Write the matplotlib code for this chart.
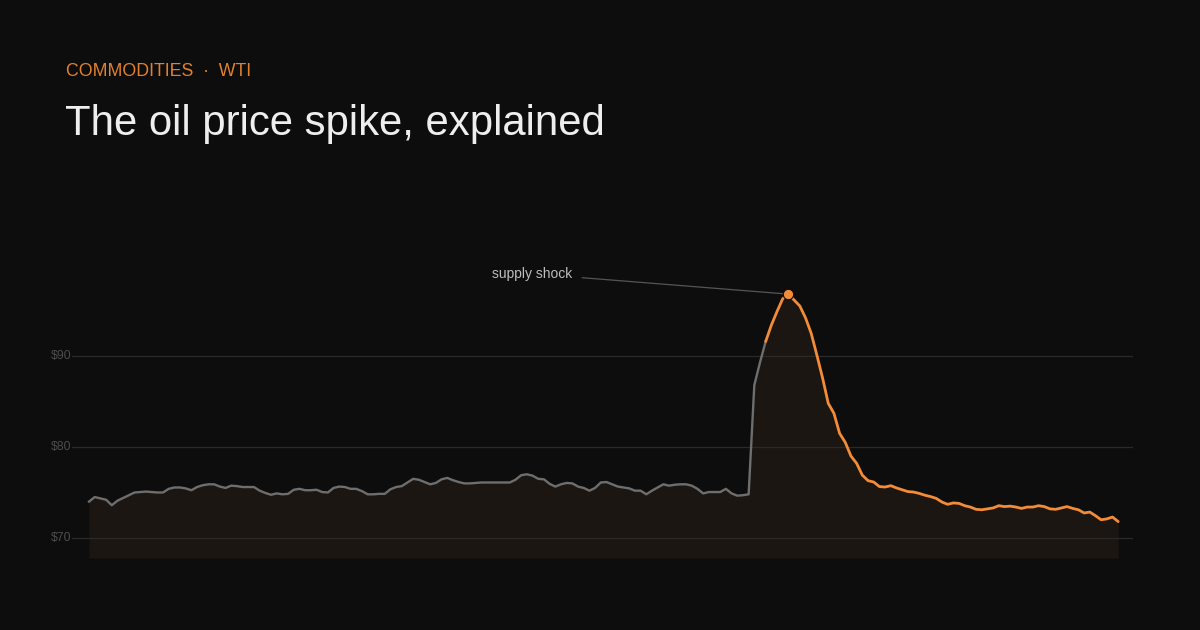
import numpy as np
import matplotlib
matplotlib.use("Agg")
import matplotlib.pyplot as plt
from matplotlib.transforms import blended_transform_factory

# WTI price, one value per session
prices = [
    74.0, 74.5, 74.35, 74.2, 73.6, 74.1, 74.4, 74.7, 75.0, 75.05,
    75.1, 75.05, 75.0, 75.0, 75.4, 75.55, 75.55, 75.45, 75.25, 75.6,
    75.8, 75.9, 75.9, 75.65, 75.5, 75.75, 75.7, 75.6, 75.6, 75.6,
    75.2, 74.95, 74.75, 74.9, 74.8, 74.85, 75.3, 75.4, 75.25, 75.25,
    75.3, 75.05, 75.0, 75.5, 75.65, 75.6, 75.4, 75.4, 75.15, 74.8,
    74.8, 74.85, 74.85, 75.35, 75.6, 75.7, 76.1, 76.5, 76.4, 76.15,
    75.9, 76.05, 76.45, 76.6, 76.35, 76.15, 76.0, 76.0, 76.05, 76.1,
    76.1, 76.1, 76.1, 76.1, 76.1, 76.4, 76.9, 77.0, 76.85, 76.5,
    76.45, 75.95, 75.65, 75.9, 76.05, 76.0, 75.65, 75.5, 75.2, 75.5,
    76.1, 76.15, 75.9, 75.65, 75.55, 75.45, 75.2, 75.2, 74.8, 75.2,
    75.55, 75.9, 75.75, 75.85, 75.9, 75.9, 75.75, 75.4, 74.9, 75.05,
    75.05, 75.05, 75.4, 74.9, 74.65, 74.7, 74.8, 86.8, 89.3, 91.6,
    93.4, 94.9, 96.3, 96.8, 96.15, 95.5, 94.2, 92.5, 90.1, 87.6,
    84.8, 83.7, 81.5, 80.5, 79.0, 78.2, 76.9, 76.3, 76.15, 75.65,
    75.6, 75.75, 75.5, 75.3, 75.1, 75.05, 74.9, 74.7, 74.55, 74.35,
    73.95, 73.7, 73.85, 73.8, 73.55, 73.4, 73.15, 73.1, 73.2, 73.3,
    73.55, 73.45, 73.5, 73.4, 73.25, 73.4, 73.4, 73.55, 73.45, 73.2,
    73.15, 73.3, 73.45, 73.25, 73.1, 72.75, 72.85, 72.45, 72.0, 72.1,
    72.3, 71.8,
]
highlight_start = 119  # first session drawn in orange
y_ticks = [70, 80, 90]
y_tick_labels = ["$70", "$80", "$90"]
kicker = "COMMODITIES  ·  WTI"
title = "The oil price spike, explained"
note = "supply shock"

BG = "#0d0d0d"
ORANGE = "#f28c38"
GREY_LINE = "#6e6e6e"
FILL = "#1b1612"

plt.rcParams["font.family"] = ["Liberation Sans", "DejaVu Sans"]

y = np.array(prices)
x = np.arange(len(y))
peak = int(np.argmax(y))

fig = plt.figure(figsize=(12, 6.3), dpi=100, facecolor=BG)
ax = fig.add_axes([72 / 1200, 1 - 558 / 630, (1133 - 72) / 1200, 308 / 630])
ax.set_facecolor(BG)

ax.fill_between(x, y, 67.8, color=FILL, lw=0, zorder=1)
for t in y_ticks:
    ax.axhline(t, color="#2a2a2a", lw=0.9, zorder=2)

ax.plot(x[:highlight_start + 1], y[:highlight_start + 1], color=GREY_LINE,
        lw=1.7, solid_joinstyle="round", zorder=3)
ax.plot(x[highlight_start:], y[highlight_start:], color=ORANGE,
        lw=2.0, solid_joinstyle="round", solid_capstyle="round", zorder=4)
ax.plot([x[peak]], [y[peak]], "o", color=ORANGE, ms=7.5, mec=BG, mew=0.8, zorder=5)

ax.annotate(note, xy=(x[peak], y[peak]), xytext=(-216, 20),
            textcoords="offset pixels", ha="right", va="center",
            fontsize=10, color="#bdbdbd",
            arrowprops=dict(arrowstyle="-", color="#555555", lw=0.9,
                            shrinkA=5, shrinkB=4, relpos=(1, 0.3)))

ax.set_xlim(-3, 183.6)
ax.set_ylim(67.8, 101.65)
for s in ax.spines.values():
    s.set_visible(False)
ax.set_xticks([])
ax.set_yticks([])

trans = blended_transform_factory(fig.transFigure, ax.transData)
for t, lab in zip(y_ticks, y_tick_labels):
    ax.text(51 / 1200, t, lab, transform=trans, ha="left", va="center",
            fontsize=8.8, color="#4d4d4d")

fig.text(66 / 1200, 1 - 72 / 630, kicker, ha="left", va="center",
         fontsize=12.8, color="#e0812f")
fig.text(65 / 1200, 1 - 124 / 630, title, ha="left", va="center",
         fontsize=30.2, color="#eeeeee")

fig.savefig("out.png", dpi=100, facecolor=BG)
